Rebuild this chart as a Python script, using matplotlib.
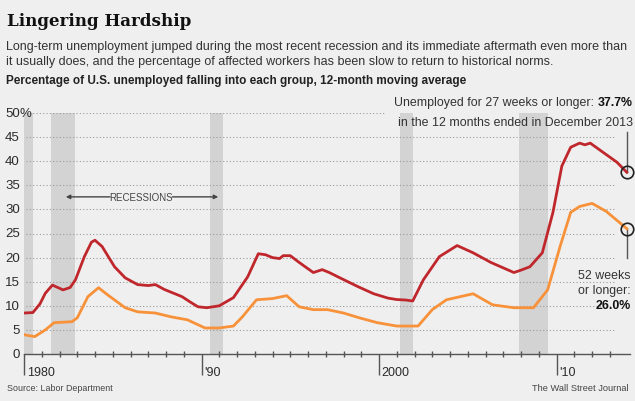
import matplotlib
matplotlib.use("Agg")
import matplotlib.pyplot as plt

# 12-month moving average, % of unemployed
red_years = [1980.0, 1980.5, 1980.9, 1981.2, 1981.6, 1982.2, 1982.6, 1982.9, 1983.4, 1983.8,
             1984.0, 1984.4, 1985.1, 1985.7, 1986.4, 1987.0, 1987.4, 1987.9, 1988.9, 1989.4,
             1989.8, 1990.3, 1991.0, 1991.8, 1992.6, 1993.2, 1993.6, 1994.0, 1994.4, 1994.6,
             1995.0, 1995.5, 1996.3, 1996.8, 1997.2, 1997.8, 1998.8, 1999.7, 2000.5, 2001.0,
             2001.5, 2001.9, 2002.5, 2003.4, 2004.4, 2005.3, 2006.3, 2007.6, 2008.0, 2008.5,
             2009.2, 2009.8, 2010.3, 2010.8, 2011.3, 2011.6, 2011.9, 2012.6, 2013.4, 2013.96]
red_vals = [8.5, 8.6, 10.4, 12.6, 14.3, 13.3, 13.8, 15.4, 20.2, 23.2,
            23.6, 22.3, 18.1, 15.8, 14.4, 14.2, 14.4, 13.4, 11.9, 10.7,
            9.8, 9.6, 10.0, 11.7, 16.0, 20.8, 20.6, 20.0, 19.8, 20.4,
            20.4, 19.0, 16.9, 17.5, 16.9, 15.8, 14.0, 12.5, 11.6, 11.3,
            11.2, 11.0, 15.4, 20.2, 22.5, 21.0, 19.0, 16.9, 17.4, 18.1,
            21.0, 29.4, 39.0, 42.9, 43.75, 43.4, 43.75, 41.9, 39.8, 37.7]

orange_years = [1980.0, 1980.6, 1981.2, 1981.7, 1982.7, 1983.0, 1983.6, 1984.2, 1984.7, 1985.7,
                1986.4, 1987.4, 1988.3, 1989.2, 1990.2, 1991.0, 1991.8, 1992.3, 1993.1, 1994.0,
                1994.8, 1995.5, 1996.3, 1997.1, 1998.0, 1998.9, 1999.9, 2001.0, 2002.2, 2003.0,
                2003.8, 2005.3, 2006.4, 2007.6, 2008.7, 2009.5, 2010.2, 2010.8, 2011.3, 2012.0,
                2012.8, 2013.96]
orange_vals = [4.0, 3.6, 5.0, 6.5, 6.7, 7.5, 11.9, 13.75, 12.3, 9.6,
               8.75, 8.5, 7.7, 7.1, 5.4, 5.4, 5.8, 7.7, 11.25, 11.5,
               12.1, 9.8, 9.2, 9.2, 8.5, 7.5, 6.5, 5.8, 5.8, 9.2,
               11.25, 12.5, 10.2, 9.6, 9.6, 13.3, 22.3, 29.4, 30.6, 31.25,
               29.6, 26.0]

# recessions (start, end) in decimal years
recessions = [(1980.0, 1980.5), (1981.5, 1982.9), (1990.5, 1991.2), (2001.2, 2001.9), (2007.9, 2009.5)]

y_ticks = [0, 5, 10, 15, 20, 25, 30, 35, 40, 45, 50]
decades = [1980, 1990, 2000, 2010]
decade_labels = ["1980", "'90", "2000", "'10"]

bg = "#efefef"
red = "#c0272d"
orange = "#f7923a"
txt = "#2b2b2b"

plt.rcParams["font.family"] = ["Liberation Sans", "DejaVu Sans"]

fig = plt.figure(figsize=(6.35, 4.02), dpi=100, facecolor=bg)
W, H = 635.0, 402.0
ax = fig.add_axes([24 / W, (H - 355) / H, 606 / W, 241 / H])
ax.set_facecolor(bg)
ax.set_xlim(1980, 2014.14)
ax.set_ylim(0, 50)

for s, e in recessions:
    ax.axvspan(s, e, color="#d3d3d3", lw=0, zorder=0)

for v in y_ticks[1:]:
    end = 2000.3 if v == 50 else 2013.3
    ax.plot([1980.1, end], [v, v], color="#9a9a9a", lw=0.8, ls=(0, (1, 2)), zorder=1)

ax.plot(orange_years, orange_vals, color=orange, lw=2.0, zorder=3, solid_joinstyle="round")
ax.plot(red_years, red_vals, color=red, lw=2.0, zorder=3, solid_joinstyle="round")

# call-out lines and circles
ax.plot([red_years[-1]] * 2, [red_vals[-1], 46.0], color="#555555", lw=1.0, zorder=2, clip_on=False)
ax.plot([orange_years[-1]] * 2, [orange_vals[-1], 20.0], color="#555555", lw=1.0, zorder=2, clip_on=False)
ax.plot([red_years[-1], orange_years[-1]], [red_vals[-1], orange_vals[-1]], "o", ms=9,
        mfc="none", mec="#222222", mew=1.2, zorder=4, clip_on=False)

for sp in ["left", "right", "top"]:
    ax.spines[sp].set_visible(False)
ax.spines["bottom"].set_color("#555555")
ax.spines["bottom"].set_linewidth(1.0)

ax.set_yticks([])
ax.set_xticks(decades)
ax.set_xticklabels([])
ax.set_xticks(range(1981, 2014), minor=True)
ax.tick_params(axis="x", which="major", direction="out", length=15, width=1.0, color="#555555")
ax.tick_params(axis="x", which="minor", direction="inout", length=5, width=1.0, color="#555555")

for d, lab in zip(decades, decade_labels):
    ax.annotate(lab, (d, 0), xytext=(2, -13), textcoords="offset points", ha="left", va="center",
                fontsize=9, color=txt)

for v in y_ticks:
    ax.annotate(str(v), (1980, v), xytext=(-3, 0), textcoords="offset points", ha="right", va="center",
                fontsize=9.5, color=txt, annotation_clip=False)
ax.annotate("%", (1980, 50), xytext=(-3.5, 0), textcoords="offset points", ha="left", va="center",
            fontsize=9.5, color=txt, annotation_clip=False)

# recessions label
ax.text(1986.6, 32.6, "RECESSIONS", ha="center", va="center", fontsize=7, color="#444444")
ax.annotate("", xy=(1982.2, 32.6), xytext=(1985.0, 32.6),
            arrowprops=dict(arrowstyle="-|>", color="#444444", lw=1.0, mutation_scale=6))
ax.annotate("", xy=(1991.1, 32.6), xytext=(1988.2, 32.6),
            arrowprops=dict(arrowstyle="-|>", color="#444444", lw=1.0, mutation_scale=6))

renderer = fig.canvas.get_renderer()


def fit(t, width_px):
    # scale the font so the text spans the width seen in the reference
    w = t.get_window_extent(renderer).width
    t.set_fontsize(t.get_fontsize() * width_px / w)
    return t


# titles
fit(fig.text(7 / W, 1 - 21 / H, "Lingering Hardship", fontsize=14, fontweight="bold",
             family="DejaVu Serif", color="#111111", va="center"), 184)
sub = fit(fig.text(6 / W, 1 - 47 / H, "Long-term unemployment jumped during the most recent recession and its immediate aftermath even more than",
                   fontsize=10, color="#333333", va="center"), 621)
fig.text(6 / W, 1 - 62 / H, "it usually does, and the percentage of affected workers has been slow to return to historical norms.",
         fontsize=sub.get_fontsize(), color="#333333", va="center")
fit(fig.text(6 / W, 1 - 81 / H, "Percentage of U.S. unemployed falling into each group, 12-month moving average",
             fontsize=10, fontweight="bold", color="#222222", va="center"), 457)

# annotations on the right
line2 = fit(fig.text(633 / W, 1 - 123 / H, "in the 12 months ended in December 2013", fontsize=10,
                     color="#333333", ha="right", va="center"), 236)
fs = line2.get_fontsize()
t1 = fig.text(633 / W, 1 - 103 / H, "37.7%", fontsize=fs, fontweight="bold", color="#111111",
              ha="right", va="center")
bb = t1.get_window_extent(renderer)
fig.text(bb.x0 / W, 1 - 103 / H, "Unemployed for 27 weeks or longer: ", fontsize=fs, color="#333333",
         ha="right", va="center")
fig.text(631 / W, 1 - 276 / H, "52 weeks", fontsize=fs, color="#333333", ha="right", va="center")
fig.text(631 / W, 1 - 291 / H, "or longer:", fontsize=fs, color="#333333", ha="right", va="center")
fig.text(631 / W, 1 - 306 / H, "26.0%", fontsize=fs, fontweight="bold", color="#111111", ha="right", va="center")

fit(fig.text(7 / W, 1 - 389 / H, "Source: Labor Department", fontsize=8, color="#444444", va="center"), 106)
fit(fig.text(629 / W, 1 - 389 / H, "The Wall Street Journal", fontsize=8, color="#444444", va="center",
             ha="right"), 98)

fig.savefig("out.png", dpi=100, facecolor=bg)
